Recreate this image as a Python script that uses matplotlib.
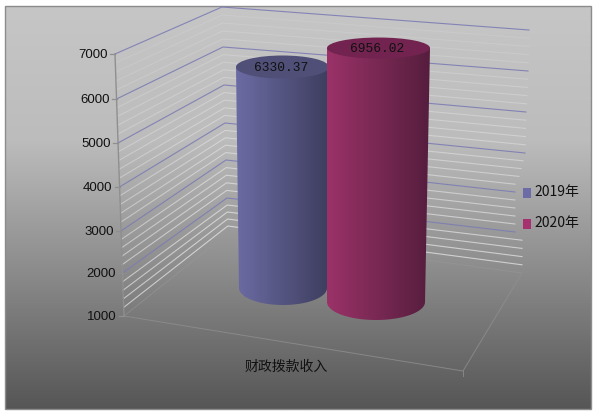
#!/usr/bin/env python

import numpy as np
import matplotlib
matplotlib.use('Agg')
import matplotlib.pyplot as plt
from matplotlib.patches import Ellipse, PathPatch, Rectangle
from matplotlib.path import Path
from matplotlib.colors import LinearSegmentedColormap

# chart data
category = ['财政拨款收入']
series_names = ['2019年', '2020年']
series_values = [6330.37, 6956.02]
value_labels = ['6330.37', '6956.02']
major_ticks = [1000, 2000, 3000, 4000, 5000, 6000, 7000]
minor_step = 200

# wall outline at each major tick (y in pixels)
left_y = [316, 273, 231, 187, 143, 99, 54]
back_y = [233, 198, 160, 123, 85, 47, 7]
right_y = [273, 232, 192, 153, 112, 71, 30]
left_x = [124, 122.5, 121, 119.5, 118, 116.5, 115]
back_x = [228, 227, 226, 225, 224, 223, 222]
right_x = [522, 515, 515, 525, 526, 528, 529]

# cylinders: colours and shape
side_left = ['#6b6ba3', '#9a3268']
side_right = ['#3e3e60', '#561e3e']
top_colors = ['#4f4f78', '#72234f']
legend_colors = ['#6c6ca6', '#a5326f']
cyl_top_x = [(236, 329), (327, 430)]
cyl_base_x = [(239, 327), (327, 425)]
cyl_base_y = [288, 302]
cyl_scale = [0.04146, 0.04264]
cyl_top_h = [11.5, 10.5]
cyl_base_h = [17, 18]


def wall(v):
    # interpolate one value onto the three wall corners
    l = (np.interp(v, major_ticks, left_x), np.interp(v, major_ticks, left_y))
    b = (np.interp(v, major_ticks, back_x), np.interp(v, major_ticks, back_y))
    r = (np.interp(v, major_ticks, right_x), np.interp(v, major_ticks, right_y))
    return l, b, r


def right_end(v):
    # the right wall ends in steps
    if v <= 2000 and v > 1000:
        return 522 if v < 2000 else 515
    if v < 3400:
        return 515
    return np.interp(v, major_ticks, right_x)


fig = plt.figure(figsize=(6, 4.16), dpi=100, facecolor='white')
ax = fig.add_axes([0, 0, 1, 1])
ax.set_xlim(0, 600)
ax.set_ylim(416, 0)
ax.axis('off')

# panel with grey gradient
cmap = LinearSegmentedColormap.from_list('panel', ['#c6c6c6', '#bcbcbc', '#8a8a8a', '#565656'])
grad = np.linspace(0, 1, 256).reshape(-1, 1)
ax.imshow(grad, extent=(5, 591, 409, 6), cmap=cmap, aspect='auto', zorder=0)
ax.add_patch(Rectangle((5, 6), 586, 403, fill=False, ec='#8c8c8c', lw=1.0, zorder=1))
ax.set_xlim(0, 600)
ax.set_ylim(416, 0)

# minor grid lines
minor_ticks = np.arange(major_ticks[0] + minor_step, major_ticks[-1], minor_step)
for v in minor_ticks:
    if v in major_ticks:
        continue
    l, b, r = wall(v)
    xr = right_end(v)
    alpha = np.interp(v, [1000, 3000, 7000], [0.6, 0.42, 0.08])
    ax.plot([l[0], b[0], xr], [l[1], b[1], r[1]], color='white', lw=0.8, alpha=alpha, zorder=2)

# major grid lines
for v in major_ticks[1:]:
    l, b, r = wall(v)
    ax.plot([l[0], b[0], right_end(v)], [l[1], b[1], r[1]], color='#7c7cb4', lw=0.8, alpha=0.9, zorder=3)

# floor and walls edges
l, b, r = wall(major_ticks[0])
front = (463, 371)
ax.plot([l[0], b[0], r[0]], [l[1], b[1], r[1]], color='#9a9a9a', lw=0.7, alpha=0.5, zorder=2)
ax.plot([l[0], front[0], r[0]], [l[1], front[1], r[1]], color='#8f8f8f', lw=0.7, alpha=0.8, zorder=2)
ax.plot([front[0], front[0]], [front[1], front[1] + 5], color='#8f8f8f', lw=0.7, alpha=0.8, zorder=2)

# value axis
l_top, _, _ = wall(major_ticks[-1])
l_bot, _, _ = wall(major_ticks[0])
ax.plot([l_top[0], l_bot[0]], [l_top[1], l_bot[1]], color='#8f8f8f', lw=1.0, zorder=4)
for v in major_ticks:
    l, _, _ = wall(v)
    ax.plot([l[0] - 5, l[0]], [l[1], l[1]], color='#8f8f8f', lw=0.9, zorder=4)
    ax.text(l[0] - 7, l[1] + 1, str(v), ha='right', va='center', fontsize=9.5,
            family='Liberation Sans', color='#111111', zorder=6)

# cylinders
for i, val in enumerate(series_values):
    tx0, tx1 = cyl_top_x[i]
    bx0, bx1 = cyl_base_x[i]
    by = cyl_base_y[i]
    ty = by - (val - major_ticks[0]) * cyl_scale[i]
    th, bh = cyl_top_h[i], cyl_base_h[i]
    bcx, bw = (bx0 + bx1) / 2, (bx1 - bx0) / 2

    # outline of the side: straight edges and lower half ellipse
    t = np.linspace(0, np.pi, 60)
    xs = np.concatenate([[tx0], bcx - bw * np.cos(t), [tx1]])
    ys = np.concatenate([[ty], by + bh * np.sin(t), [ty]])
    verts = np.column_stack([xs, ys])
    clip = PathPatch(Path(np.vstack([verts, verts[0]]), closed=True), fc='none', ec='none',
                     transform=ax.transData)
    ax.add_patch(clip)
    side = LinearSegmentedColormap.from_list('side', [side_left[i], side_right[i]])
    im = ax.imshow(np.linspace(0, 1, 40).reshape(1, -1), extent=(tx0, tx1, by + bh, ty - 1),
                   cmap=side, aspect='auto', zorder=5 + i * 0.1)
    im.set_clip_path(clip)
    ax.add_patch(Ellipse(((tx0 + tx1) / 2, ty), tx1 - tx0, th * 2, fc=top_colors[i], ec='none',
                         zorder=5.05 + i * 0.1))
    ax.text((tx0 + tx1) / 2 - 1, ty + 1, value_labels[i], ha='center', va='center', fontsize=9.3,
            family='Liberation Mono', color='#111111', zorder=7)

ax.set_xlim(0, 600)
ax.set_ylim(416, 0)

# category label and legend
ax.text(286, 367, category[0], ha='center', va='center', fontsize=10,
        family=['Noto Sans CJK SC', 'DejaVu Sans'], color='#111111', zorder=6)
for i, name in enumerate(series_names):
    y = 193 + i * 31
    ax.add_patch(Rectangle((523, y - 5), 8, 10, fc=legend_colors[i], ec='none', zorder=6))
    ax.text(534, y - 1, name, ha='left', va='center', fontsize=10,
            family=['Noto Sans CJK SC', 'DejaVu Sans'], color='#111111', zorder=6)

fig.savefig('out.png', dpi=100)
